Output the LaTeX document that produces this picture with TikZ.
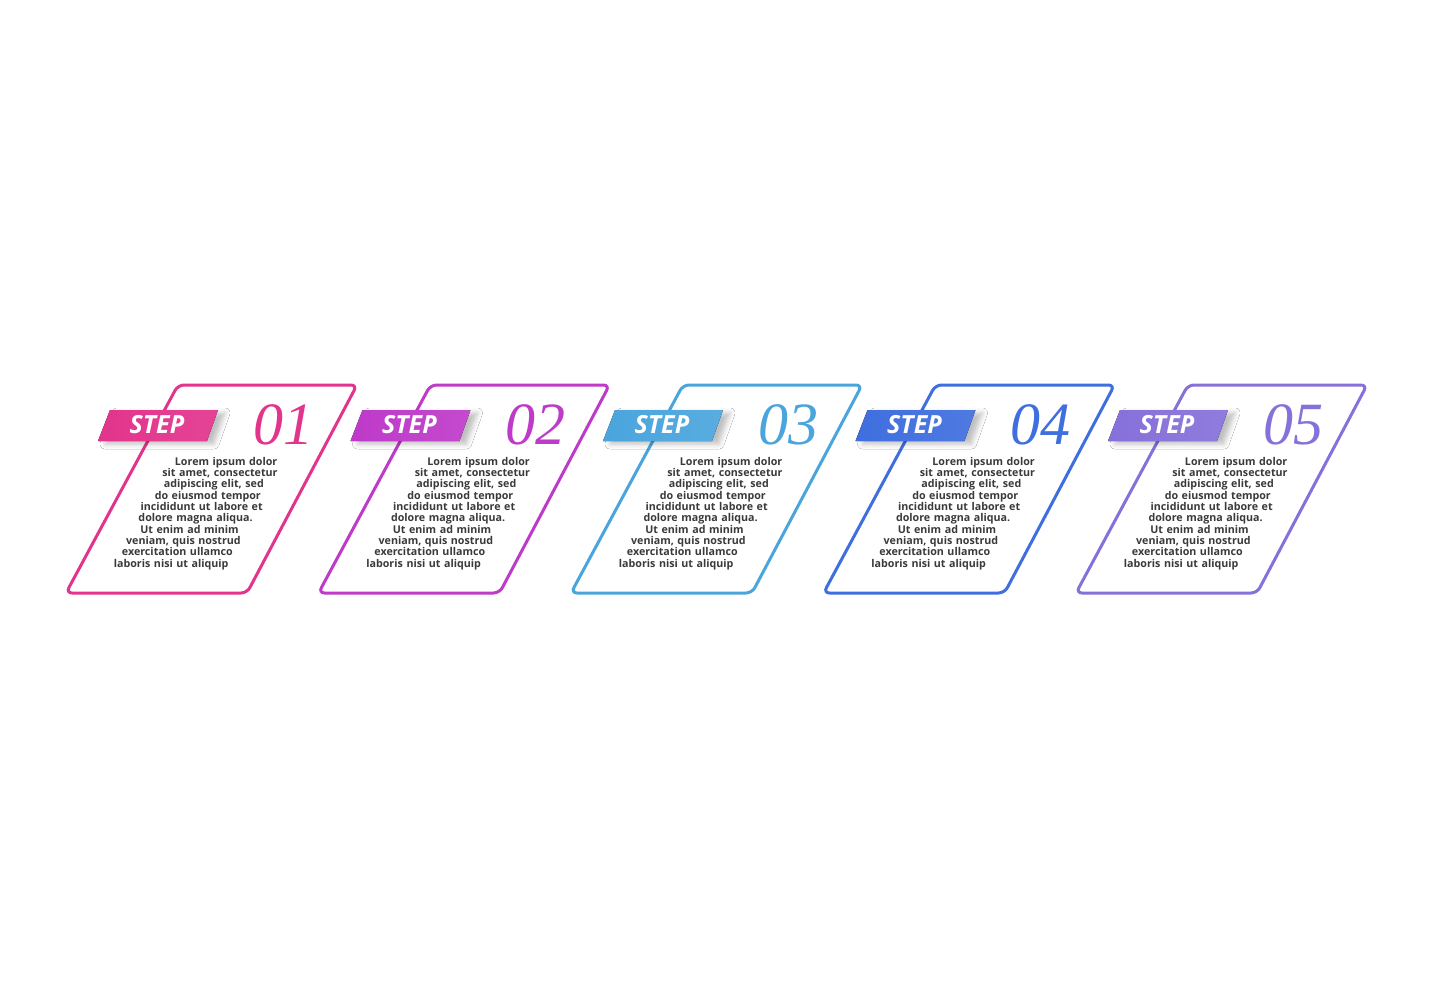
\documentclass[tikz,border=0pt]{standalone}
\usepackage{fontspec}
\usepackage{tikz}
\usetikzlibrary{shadows.blur}
\newfontfamily\bodyfont{Open Sans}
\newfontfamily\numfont{Liberation Serif}
\definecolor{stepA}{HTML}{E2348C}
\definecolor{stepB}{HTML}{BE3AC9}
\definecolor{stepC}{HTML}{4AA5DD}
\definecolor{stepD}{HTML}{3F6EDF}
\definecolor{stepE}{HTML}{8670DA}
\definecolor{bodygray}{HTML}{3A3A3A}
\newcommand{\loremtext}{\parindent=0pt \leftskip=0pt plus 1fil \rightskip=0pt plus 1fil \parfillskip=0pt
  \parshape 10 54.9pt 150pt 48.8pt 150pt 42.7pt 150pt 36.6pt 150pt 30.5pt 150pt
  24.4pt 150pt 18.3pt 150pt 12.2pt 150pt 6.1pt 150pt 0pt 150pt
  Lorem ipsum dolor\break sit amet, consectetur\break adipiscing elit, sed\break
  do eiusmod tempor\break incididunt ut labore et\break dolore magna aliqua.\break
  Ut enim ad minim\break veniam, quis nostrud\break exercitation ullamco\break
  laboris nisi ut aliquip\par}
\tikzstyle{panel}=[line width=3pt, rounded corners=6pt]
\tikzstyle{tag}=[blur shadow={shadow xshift=7pt, shadow yshift=-3pt, shadow blur radius=5pt, shadow opacity=25}]
\tikzstyle{steplabel}=[text=white, inner sep=0pt, font=\bodyfont\bfseries\itshape\fontsize{25}{25}\selectfont]
\tikzstyle{numlabel}=[inner sep=0pt, font=\numfont\itshape\fontsize{60}{60}\selectfont]
\tikzstyle{bodytext}=[text=bodygray, text width=204.9pt, inner sep=0pt, anchor=north west, font=\bodyfont\bfseries\fontsize{10.7}{11.3}\selectfont]

\begin{document}
\begin{tikzpicture}[x=1pt, y=-1pt]
    \useasboundingbox[fill=white] (0,0) rectangle (1435,980);

    % step 01
    \draw[panel, stepA] (178,385) -- (357,385) -- (247,593) -- (66,593) -- cycle;
    \fill[tag, left color=stepA, right color=stepA!92!white] (110,410) -- (218,410) -- (207,441) -- (98,441) -- cycle;
    \node[steplabel] (s1) at (157,425) {STEP};
    \node[numlabel, text=stepA] (n1) at (283,425) {01};
    \node[bodytext] (b1) at (96,457) {\loremtext};

    % step 02
    \begin{scope}[xshift=252.5pt]
    \draw[panel, stepB] (178,385) -- (357,385) -- (247,593) -- (66,593) -- cycle;
    \fill[tag, left color=stepB, right color=stepB!92!white] (110,410) -- (218,410) -- (207,441) -- (98,441) -- cycle;
    \node[steplabel] (s2) at (157,425) {STEP};
    \node[numlabel, text=stepB] (n2) at (283,425) {02};
    \node[bodytext] (b2) at (96,457) {\loremtext};
    \end{scope}

    % step 03
    \begin{scope}[xshift=505pt]
    \draw[panel, stepC] (178,385) -- (357,385) -- (247,593) -- (66,593) -- cycle;
    \fill[tag, left color=stepC, right color=stepC!92!white] (110,410) -- (218,410) -- (207,441) -- (98,441) -- cycle;
    \node[steplabel] (s3) at (157,425) {STEP};
    \node[numlabel, text=stepC] (n3) at (283,425) {03};
    \node[bodytext] (b3) at (96,457) {\loremtext};
    \end{scope}

    % step 04
    \begin{scope}[xshift=757.5pt]
    \draw[panel, stepD] (178,385) -- (357,385) -- (247,593) -- (66,593) -- cycle;
    \fill[tag, left color=stepD, right color=stepD!92!white] (110,410) -- (218,410) -- (207,441) -- (98,441) -- cycle;
    \node[steplabel] (s4) at (157,425) {STEP};
    \node[numlabel, text=stepD] (n4) at (283,425) {04};
    \node[bodytext] (b4) at (96,457) {\loremtext};
    \end{scope}

    % step 05
    \begin{scope}[xshift=1010pt]
    \draw[panel, stepE] (178,385) -- (357,385) -- (247,593) -- (66,593) -- cycle;
    \fill[tag, left color=stepE, right color=stepE!92!white] (110,410) -- (218,410) -- (207,441) -- (98,441) -- cycle;
    \node[steplabel] (s5) at (157,425) {STEP};
    \node[numlabel, text=stepE] (n5) at (283,425) {05};
    \node[bodytext] (b5) at (96,457) {\loremtext};
    \end{scope}

\end{tikzpicture}
\end{document}
